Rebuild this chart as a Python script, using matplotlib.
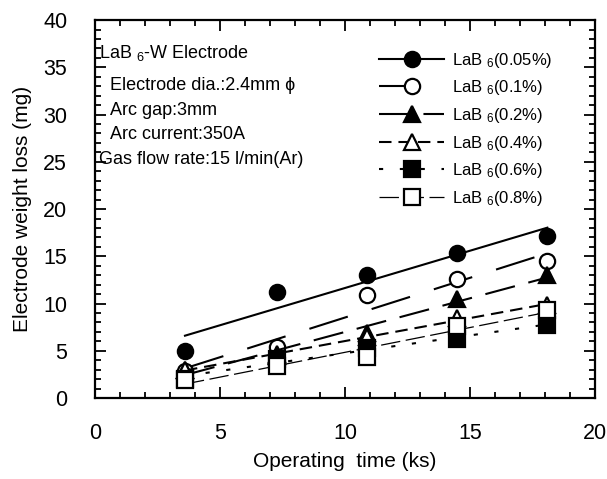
import matplotlib
matplotlib.use('Agg')
import matplotlib.pyplot as plt
from matplotlib.ticker import MultipleLocator
import numpy as np

plt.rcParams['font.family'] = ['Liberation Sans', 'DejaVu Sans']
plt.rcParams['mathtext.fontset'] = 'custom'
plt.rcParams['mathtext.rm'] = 'Liberation Sans'
plt.rcParams['mathtext.default'] = 'regular'
plt.rcParams['lines.scale_dashes'] = False

# operating time (ks)
time_ks = [3.6, 7.3, 10.9, 14.5, 18.1]

# electrode weight loss (mg) for each LaB6 content
loss_005 = [5.0, 11.2, 13.0, 15.3, 17.2]
loss_01 = [2.9, 5.4, 10.9, 12.6, 14.5]
loss_02 = [3.0, 4.7, 6.9, 10.5, 13.0]
loss_04 = [3.0, 4.5, 6.5, 8.5, 9.8]
loss_06 = [2.0, 4.1, 5.3, 6.3, 7.7]
loss_08 = [1.9, 3.4, 4.3, 7.6, 9.3]

labels = ['LaB $_6$(0.05%)', 'LaB $_6$(0.1%)', 'LaB $_6$(0.2%)',
          'LaB $_6$(0.4%)', 'LaB $_6$(0.6%)', 'LaB $_6$(0.8%)']

series = [
    (loss_005, 'o', 'black', '-', 1.5),
    (loss_01, 'o', 'white', (0, (29, 18)), 1.5),
    (loss_02, '^', 'black', (0, (22, 10)), 1.5),
    (loss_04, '^', 'white', (0, (9, 5)), 1.5),
    (loss_06, 's', 'black', (0, (3, 12)), 1.5),
    (loss_08, 's', 'white', (0, (14, 4)), 0.9),
]

fig = plt.figure(figsize=(6.07, 4.79), dpi=100)
ax = fig.add_axes([0.1565, 0.169, 0.8235, 0.789])

x = np.array(time_ks)
xfit = np.array([x[0], x[-1]])
for (vals, mk, fc, ls, lw), lab in zip(series, labels):
    k, b = np.polyfit(x, vals, 1)
    ax.plot(xfit, k * xfit + b, linestyle=ls, color='black', lw=lw)
    ax.plot(x, vals, linestyle='none', marker=mk, markersize=11,
            markerfacecolor=fc, markeredgecolor='black', markeredgewidth=1.6)
    # legend proxy
    ax.plot([], [], linestyle=ls, color='black', lw=lw, marker=mk,
            markersize=11, markerfacecolor=fc, markeredgecolor='black',
            markeredgewidth=1.6, label=lab)

ax.set_xlim(0, 20)
ax.set_ylim(0, 40)
ax.xaxis.set_major_locator(MultipleLocator(5))
ax.xaxis.set_minor_locator(MultipleLocator(1))
ax.yaxis.set_major_locator(MultipleLocator(5))
ax.yaxis.set_minor_locator(MultipleLocator(1))
ax.tick_params(which='both', direction='in', top=True, right=True, width=1.3)
ax.tick_params(which='major', length=8, labelsize=15.5)
ax.tick_params(axis='x', which='major', pad=18)
ax.tick_params(axis='y', which='major', pad=20)
ax.tick_params(which='minor', length=4)
for sp in ax.spines.values():
    sp.set_linewidth(1.6)

ax.set_xlabel('Operating  time (ks)', fontsize=15, labelpad=6)
ax.set_ylabel('Electrode weight loss (mg)', fontsize=15, labelpad=8)

ax.text(0.15, 36.0, 'LaB $_6$-W Electrode', fontsize=13)
ax.text(0.6, 32.6, 'Electrode dia.:2.4mm \u03d5', fontsize=13)
ax.text(0.6, 30.0, 'Arc gap:3mm', fontsize=13)
ax.text(0.6, 27.4, 'Arc current:350A', fontsize=13)
ax.text(0.15, 24.8, 'Gas flow rate:15 l/min(Ar)', fontsize=13)

ax.legend(loc='upper left', bbox_to_anchor=(0.555, 0.937), frameon=False,
          fontsize=12, handlelength=3.9, labelspacing=0.52,
          handletextpad=0.45, borderaxespad=0)

fig.savefig('out.png', dpi=100)
